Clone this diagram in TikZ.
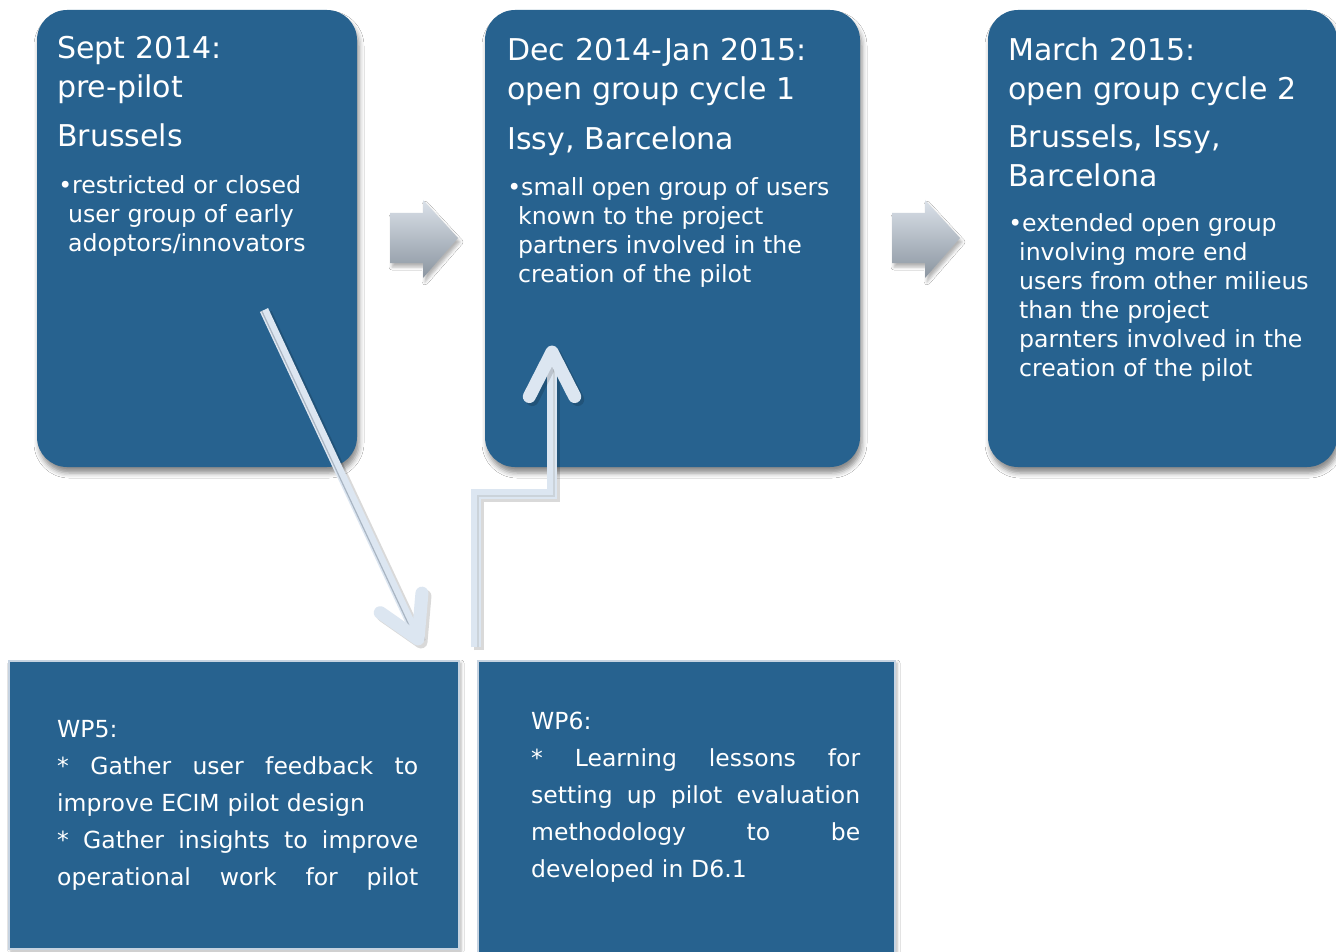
\documentclass[tikz,border=0pt]{standalone}
\usepackage{fontspec}
\setmainfont{DejaVu Sans}
\usetikzlibrary{calc,shadows,shadows.blur}
\definecolor{boxblue}{HTML}{27628F}
\definecolor{arrowlight}{HTML}{DCE6F1}
\definecolor{arrowline}{HTML}{A9B5C2}
\definecolor{greytop}{HTML}{DAE1E9}
\definecolor{greybot}{HTML}{8B95A0}
\definecolor{wpborder}{HTML}{C6D3E1}
\newcommand{\jline}[2]{\makebox[#1][l]{#2}}
\begin{document}
\begin{tikzpicture}[x=1pt,y=-1pt,
  phase/.style={fill=boxblue, rounded corners=30pt, inner sep=0pt, outer sep=0pt,
    anchor=north west, blur shadow={shadow xshift=2pt, shadow yshift=-6pt, shadow blur radius=5pt, shadow opacity=45}},
  wpbox/.style={fill=boxblue, draw=wpborder, line width=1.5pt, inner sep=0pt, outer sep=0pt,
    anchor=north west, blur shadow={shadow xshift=2pt, shadow yshift=-2pt, shadow blur radius=3pt, shadow opacity=30}},
  ttl/.style={font=\fontsize{30}{38.5}\selectfont, text=white, anchor=base west, inner sep=0pt, text width=345pt, align=left},
  bul/.style={font=\fontsize{23.6}{29}\selectfont, text=white, anchor=base west, inner sep=0pt, text width=330pt, align=left},
  wptxt/.style={font=\fontsize{23.5}{37}\selectfont, text=white, anchor=base west, inner sep=0pt, text width=420pt, align=left},
  greyarrow/.style={top color=greytop, bottom color=greybot, draw=none,
    blur shadow={shadow xshift=2pt, shadow yshift=-4pt, shadow blur radius=3pt, shadow opacity=30}},
  shaft/.style={draw=arrowlight, line width=9pt},
  shaftshadow/.style={draw=black, opacity=0.15, line width=10pt},
  thinline/.style={draw=arrowline, line width=1.2pt},
  chev/.style={draw=arrowlight, line width=13pt, line cap=round, line join=round}
]
\useasboundingbox (0,0) rectangle (1336,952);
\fill[white] (0,0) rectangle (1336,952);

% phase boxes
\node[phase, minimum width=320pt, minimum height=457pt] (b1) at (37,10) {};
\node[phase, minimum width=375pt, minimum height=457pt] (b2) at (485,10) {};
\node[phase, minimum width=349pt, minimum height=457pt] (b3) at (988,10) {};

% WP boxes
\node[wpbox, minimum width=450pt, minimum height=288pt] (wp5) at (9,661) {};
\node[wpbox, minimum width=417pt, minimum height=300pt] (wp6) at (478,661) {};

% texts box 1
\node[ttl] (t1a) at (57,59) {Sept 2014:\\pre-pilot};
\node[ttl] (t1b) at (57,147) {Brussels};
\node[bul] (t1c) at (68,194) {\hspace*{4pt}\llap{•}restricted or closed\\user group of early\\adoptors/innovators};

% texts box 2
\node[ttl] (t2a) at (507,61) {Dec 2014-Jan 2015:\\open group cycle 1};
\node[ttl] (t2b) at (507,150) {Issy, Barcelona};
\node[bul] (t2c) at (518,196) {\hspace*{3pt}\llap{•}small open group of users\\known to the project\\partners involved in the\\creation of the pilot};

% texts box 3
\node[ttl] (t3a) at (1008,61) {March 2015:\\open group cycle 2};
\node[ttl] (t3b) at (1008,148) {Brussels, Issy,\\Barcelona};
\node[bul] (t3c) at (1019,232) {\hspace*{3pt}\llap{•}extended open group\\involving more end\\users from other milieus\\than the project\\parnters involved in the\\creation of the pilot};

% WP texts
\node[wptxt] (w5) at (57,737) {WP5:\\
  \jline{361pt}{*\hfill Gather\hfill user\hfill feedback\hfill to}\\
  improve ECIM pilot design\\
  \jline{361pt}{*\hfill Gather\hfill insights\hfill to\hfill improve}\\
  \jline{361pt}{operational\hfill work\hfill for\hfill pilot}};
\node[wptxt] (w6) at (531,729) {WP6:\\
  \jline{329pt}{*\hfill Learning\hfill lessons\hfill for}\\
  \jline{329pt}{setting\hfill up\hfill pilot\hfill evaluation}\\
  \jline{329pt}{methodology\hfill to\hfill be}\\
  developed in D6.1};

% grey block arrows
\path[greyarrow] (390,213) -- (423,213) -- (423,200) -- (458,238) -- (423,278) -- (423,263) -- (390,263) -- cycle;
\path[greyarrow] (892,213) -- (925,213) -- (925,200) -- (960,238) -- (925,278) -- (925,263) -- (892,263) -- cycle;

% diagonal arrow (b1 -> wp5)
\coordinate (d0) at (264,310);
\coordinate (d1) at (418,639);
\draw[shaftshadow] ($(d0)+(3,3)$) -- ($(d1)+(3,3)$);
\draw[shaft] (d0) -- (d1);
\draw[thinline] ($(d0)+(-2.2,1)$) -- ($(d1)+(-2.2,1)$);
\draw[shaftshadow, line width=13pt, line cap=round, line join=round]
  ($(d1)!46pt!30:(d0)+(3,3)$) -- ($(d1)+(3,3)$) -- ($(d1)!46pt!-30:(d0)+(3,3)$);
\draw[chev] ($(d1)!46pt!30:(d0)$) -- (d1) -- ($(d1)!46pt!-30:(d0)$);

% elbow arrow (wp6 -> b2)
\coordinate (e0) at (476,647);
\coordinate (e1) at (552,352);
\coordinate (e1b) at (552,400);
\draw[shaftshadow] ($(e0)+(3,3)$) -- ++(0,-153) -| ($(e1)+(3,3)$);
\draw[shaft, line width=10pt] (e0) -- ++(0,-153) -| (e1);
\draw[thinline, draw=arrowline!60] ($(e0)+(2,0)$) -- ++(0,-151) -| ($(e1)+(2,0)$);
\draw[shaftshadow, line width=13pt, line cap=round, line join=round]
  ($(e1)!50pt!27:(e1b)+(3,3)$) -- ($(e1)+(3,3)$) -- ($(e1)!50pt!-27:(e1b)+(3,3)$);
\draw[chev] ($(e1)!50pt!27:(e1b)$) -- (e1) -- ($(e1)!50pt!-27:(e1b)$);
\end{tikzpicture}
\end{document}
